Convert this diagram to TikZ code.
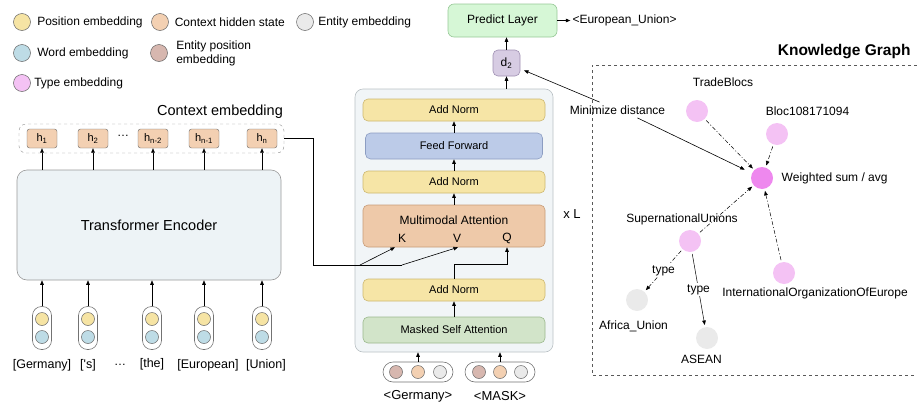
\documentclass[tikz,border=0pt]{standalone}
\usepackage{fontspec}
\setmainfont{Liberation Sans}
\usetikzlibrary{positioning,arrows.meta}

\definecolor{posyellow}{HTML}{F6E4A4}
\definecolor{ctxpeach}{HTML}{F3D0B2}
\definecolor{entgray}{HTML}{EAEAEA}
\definecolor{wordblue}{HTML}{BEDCE6}
\definecolor{entpos}{HTML}{D7B7AF}
\definecolor{typepink}{HTML}{F4C2F4}
\definecolor{sumpink}{HTML}{EE88EE}
\definecolor{normfill}{HTML}{F6E5A6}
\definecolor{normline}{HTML}{CDB870}
\definecolor{fffill}{HTML}{BCCBE8}
\definecolor{ffline}{HTML}{8C9DC2}
\definecolor{msafill}{HTML}{D2E4C9}
\definecolor{msaline}{HTML}{9BB98C}
\definecolor{mmfill}{HTML}{EEC9A9}
\definecolor{mmline}{HTML}{C79C78}
\definecolor{predfill}{HTML}{D6F7D6}
\definecolor{predline}{HTML}{96C896}
\definecolor{dfill}{HTML}{D7CCE3}
\definecolor{dline}{HTML}{9F90B2}
\definecolor{blockfill}{HTML}{F1F5F7}
\definecolor{blockline}{HTML}{B9C0C4}
\definecolor{encfill}{HTML}{EDF3F6}

\begin{document}
\begin{tikzpicture}[x=1pt,y=-1pt,font=\fontsize{12}{14}\selectfont]
    \tikzstyle{arr}=[-{Triangle[length=4.5pt,width=3.6pt]},line width=0.6pt]
    \tikzstyle{legdot}=[circle,draw=black!60,line width=0.5pt,minimum size=17pt,inner sep=0pt]
    \tikzstyle{dot}=[circle,draw=black!60,line width=0.5pt,minimum size=13pt,inner sep=0pt]
    \tikzstyle{layer}=[rounded corners=5pt,line width=0.6pt,minimum width=182pt,minimum height=22pt,font=\fontsize{11}{13}\selectfont]
    \tikzstyle{hbox}=[rounded corners=2.5pt,draw=black!60,fill=ctxpeach,minimum width=30pt,minimum height=19pt,inner sep=0pt,font=\fontsize{11}{13}\selectfont]
    \tikzstyle{pill}=[rounded corners=9pt,draw=black!55,fill=white,line width=0.6pt]
    \tikzstyle{kgnode}=[circle,fill=typepink,minimum size=22pt,inner sep=0pt]
    \tikzstyle{kgedge}=[-{Triangle[length=4.5pt,width=3.6pt]},line width=0.5pt,dash pattern=on 4pt off 2pt on 1pt off 2pt,shorten <=2pt,shorten >=2pt]

    \useasboundingbox (0,0) rectangle (917,407);

    % legend
    \node[legdot,fill=posyellow] (lgpos) at (22,22) {};
    \node[right=3pt of lgpos] (lgpost) {Position embedding};
    \node[legdot,fill=ctxpeach] (lgctx) at (160,22) {};
    \node[right=2.5pt of lgctx] (lgctxt) {Context hidden state};
    \node[legdot,fill=entgray] (lgent) at (305,22) {};
    \node[right=1pt of lgent] (lgentt) {Entity embedding};
    \node[legdot,fill=wordblue] (lgword) at (22,53) {};
    \node[right=3pt of lgword] (lgwordt) {Word embedding};
    \node[legdot,fill=entpos] (lgepos) at (159,53) {};
    \node[right=5pt of lgepos,align=left] (lgepost) {Entity position\\embedding};
    \node[legdot,fill=typepink] (lgtype) at (22,83) {};
    \node[right=0pt of lgtype] (lgtypet) {Type embedding};

    % context encoder
    \node[draw=black!40,fill=encfill,rounded corners=10pt,line width=0.6pt,minimum width=264pt,minimum height=110pt,font=\fontsize{14.5}{16}\selectfont] (enc) at (149,225) {Transformer Encoder};
    \node[draw=black!45,dashed,rounded corners=7pt,minimum width=265pt,minimum height=29pt] (ctx) at (151.5,138.5) {};
    \node[font=\fontsize{14.5}{16}\selectfont] (ctxlabel) at (220,112) {Context embedding};
    \node[hbox] (h1) at (42,138.5) {h\textsubscript{1}};
    \node[hbox] (h2) at (93,138.5) {h\textsubscript{2}};
    \node (hdots) at (123,136) {\dots};
    \node[hbox] (h3) at (153,138.5) {h\textsubscript{n-2}};
    \node[hbox] (h4) at (204,138.5) {h\textsubscript{n-1}};
    \node[hbox] (h5) at (262,138.5) {h\textsubscript{n}};
    \draw[arr] (enc.north -| h1) -- (h1);
    \draw[arr] (enc.north -| h2) -- (h2);
    \draw[arr] (enc.north -| h3) -- (h3);
    \draw[arr] (enc.north -| h4) -- (h4);
    \draw[arr] (enc.north -| h5) -- (h5);

    % word tokens
    \node[pill,minimum width=19pt,minimum height=43pt] (tok1) at (42,328) {};
    \node[pill,minimum width=19pt,minimum height=43pt] (tok2) at (88,328) {};
    \node[pill,minimum width=19pt,minimum height=43pt] (tok3) at (152,328) {};
    \node[pill,minimum width=19pt,minimum height=43pt] (tok4) at (204,328) {};
    \node[pill,minimum width=19pt,minimum height=43pt] (tok5) at (262,328) {};
    \node[dot,fill=posyellow] (tok1p) at (42,319) {};
    \node[dot,fill=wordblue] (tok1w) at (42,337) {};
    \node[dot,fill=posyellow] (tok2p) at (88,319) {};
    \node[dot,fill=wordblue] (tok2w) at (88,337) {};
    \node[dot,fill=posyellow] (tok3p) at (152,319) {};
    \node[dot,fill=wordblue] (tok3w) at (152,337) {};
    \node[dot,fill=posyellow] (tok4p) at (204,319) {};
    \node[dot,fill=wordblue] (tok4w) at (204,337) {};
    \node[dot,fill=posyellow] (tok5p) at (262,319) {};
    \node[dot,fill=wordblue] (tok5w) at (262,337) {};
    \draw[arr] (tok1) -- (tok1 |- enc.south);
    \draw[arr] (tok2) -- (tok2 |- enc.south);
    \draw[arr] (tok3) -- (tok3 |- enc.south);
    \draw[arr] (tok4) -- (tok4 |- enc.south);
    \draw[arr] (tok5) -- (tok5 |- enc.south);
    \node[font=\fontsize{12.5}{14}\selectfont] (word1) at (42,365) {[Germany]};
    \node[font=\fontsize{12.5}{14}\selectfont] (word2) at (88,365) {[\textquotesingle s]};
    \node (worddots) at (120,365) {\dots};
    \node[font=\fontsize{12.5}{14}\selectfont] (word3) at (152,364) {[the]};
    \node[font=\fontsize{12.5}{14}\selectfont] (word4) at (208,365) {[European]};
    \node[font=\fontsize{12.5}{14}\selectfont] (word5) at (266,365) {[Union]};

    % decoder block
    \node[draw=blockline,fill=blockfill,rounded corners=8pt,line width=0.6pt,minimum width=198pt,minimum height=263pt] (dec) at (454,220.5) {};
    \node[layer,draw=normline,fill=normfill] (norm1) at (454,110) {Add Norm};
    \node[layer,draw=ffline,fill=fffill,minimum width=177pt,minimum height=26pt] (ff) at (454,146) {Feed Forward};
    \node[layer,draw=normline,fill=normfill] (norm2) at (454,182) {Add Norm};
    \node[layer,draw=mmline,fill=mmfill,minimum height=42pt] (mm) at (454,226) {};
    \node (mmt) at (454,220) {Multimodal Attention};
    \node (kk) at (402,238) {K};
    \node (vv) at (457,238) {V};
    \node (qq) at (507,238) {Q};
    \node[layer,draw=normline,fill=normfill] (norm3) at (454,290) {Add Norm};
    \node[layer,draw=msaline,fill=msafill,minimum height=26pt] (msa) at (454,330) {Masked Self Attention};
    \draw[arr] (msa) -- (norm3);
    \draw[arr] (norm3.north) -- ++(0,-14) -| (mm.south -| qq);
    \draw[arr] (mm) -- (norm2);
    \draw[arr] (norm2) -- (ff);
    \draw[arr] (ff) -- (norm1);
    \node[font=\fontsize{13}{15}\selectfont] (xl) at (572,214) {x L};

    % context to K and V
    \coordinate (kfork) at (360,265);
    \coordinate (vfork) at (402,265);
    \draw[line width=0.6pt] (ctx.east) -- ++(29,0) |- (vfork);
    \draw[arr] (vfork) -- ([xshift=1pt]mm.south -| vv);
    \draw[arr] (kfork) -- ([xshift=-7pt]mm.south -| kk);

    % entity inputs
    \node[pill,minimum width=70pt,minimum height=20pt,rounded corners=10pt] (ent1) at (418,372) {};
    \node[dot,fill=entpos] (ent1a) at (396,372) {};
    \node[dot,fill=ctxpeach] (ent1b) at (418,372) {};
    \node[dot,fill=entgray] (ent1c) at (440,372) {};
    \node[pill,minimum width=70pt,minimum height=20pt,rounded corners=10pt] (ent2) at (500,372) {};
    \node[dot,fill=entpos] (ent2a) at (479,372) {};
    \node[dot,fill=ctxpeach] (ent2b) at (500,372) {};
    \node[dot,fill=entgray] (ent2c) at (521,372) {};
    \draw[arr] (ent1) -- (ent1 |- dec.south);
    \draw[arr] (ent2) -- (ent2 |- dec.south);
    \node[font=\fontsize{13}{15}\selectfont] (entl1) at (418,396) {<Germany>};
    \node[font=\fontsize{13}{15}\selectfont] (entl2) at (500,396) {<MASK>};

    % output
    \node[draw=dline,fill=dfill,rounded corners=5pt,line width=0.6pt,minimum width=27pt,minimum height=26pt,inner sep=0pt] (dd) at (506.5,63) {d\textsubscript{2}};
    \node[draw=predline,fill=predfill,rounded corners=6pt,line width=0.6pt,minimum width=109pt,minimum height=33pt] (pred) at (502.5,20.5) {Predict Layer};
    \node[right=13pt of pred,inner sep=2pt] (eu) {<European\_Union>};
    \draw[arr] (dec.north -| dd) -- (dd);
    \draw[arr] (dd) -- (dd |- pred.south);
    \draw[arr] (pred) -- (eu);

    % knowledge graph
    \draw[dashed,line width=0.6pt,black!65] (917,65) -- (592,65) -- (592,375) -- (917,375);
    \node[font=\bfseries\fontsize{15.5}{18}\selectfont,anchor=east] (kgtitle) at (914,52) {Knowledge Graph};
    \node[kgnode] (trade) at (697,111) {};
    \node[kgnode] (bloc) at (777,134) {};
    \node[kgnode,fill=sumpink] (wsum) at (762,178) {};
    \node[kgnode] (supra) at (690,241) {};
    \node[kgnode] (intl) at (784,273) {};
    \node[kgnode,fill=entgray] (africa) at (637,300) {};
    \node[kgnode,fill=entgray] (asean) at (707,338) {};
    \node (tradel) at (723,82) {TradeBlocs};
    \node (blocl) at (807.5,111) {Bloc108171094};
    \node[right=5pt of wsum] (wsuml) {Weighted sum / avg};
    \node (supral) at (682,219) {SupernationalUnions};
    \node (intll) at (815,293) {InternationalOrganizationOfEurope};
    \node (africal) at (633.5,326) {Africa\_Union};
    \node (aseanl) at (701.5,359) {ASEAN};
    \draw[kgedge] (trade) -- (wsum);
    \draw[kgedge] (bloc) -- (wsum);
    \draw[kgedge] (supra) -- (wsum);
    \draw[kgedge] (intl) -- (wsum);
    \draw[kgedge] (supra) -- node[fill=white,inner sep=1pt] (type1) {type} (africa);
    \draw[arr,line width=0.5pt,shorten <=2pt,shorten >=2pt] (supra) -- node[fill=white,inner sep=1pt] (type2) {type} (asean);

    % distance
    \node (mind) at (617.5,110) {Minimize distance};
    \draw[arr,shorten >=4pt] ([xshift=-18pt]mind.north) -- (dd);
    \draw[arr,shorten >=8pt] ([xshift=20pt]mind.south) -- (wsum);
\end{tikzpicture}
\end{document}
